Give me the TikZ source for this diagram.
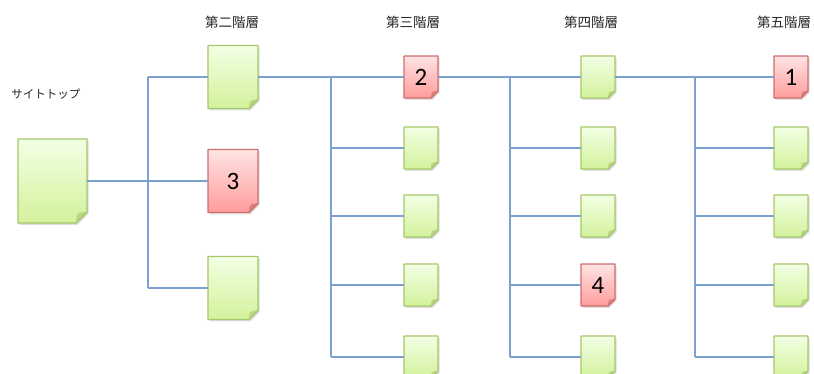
\documentclass[tikz,border=0pt]{standalone}
\usepackage{fontspec}
\newfontfamily\jp{Noto Sans CJK JP}
\newfontfamily\num{Carlito}
\usetikzlibrary{calc}
\definecolor{gtop}{HTML}{F2FFE4}
\definecolor{gbot}{HTML}{D3F29C}
\definecolor{gbrd}{HTML}{A6C86A}
\definecolor{gfold}{HTML}{B9D77E}
\definecolor{rtop}{HTML}{FFE4E4}
\definecolor{rbot}{HTML}{FF9C9C}
\definecolor{rbrd}{HTML}{CF6E6C}
\definecolor{rfold}{HTML}{D9807E}
\definecolor{conn}{HTML}{7CA1D0}
\tikzset{
  pagebox/.style={rectangle, inner sep=0pt, outer sep=0pt},
  link/.style={draw=conn, line width=1.2pt},
  lvl/.style={font=\jp\fontsize{13.5}{15}\selectfont, text=black!85},
  numtxt/.style={font=\num\fontsize{25}{28}\selectfont, text=black}
}
% #1 name, #2 position, #3 width, #4 height, #5 corner, #6 colour prefix (g/r), #7 text
\newcommand\pg[7]{%
  \node[pagebox, minimum width=#3, minimum height=#4] (#1) at (#2) {};
  \fill[black, opacity=0.13]
    ([shift={(1.5pt,-1.8pt)}]#1.north west) -- ([shift={(1.5pt,-1.8pt)}]#1.north east)
    -- ([shift={(1.5pt,#5-1.8pt)}]#1.south east) -- ([shift={(1.5pt-#5,-1.8pt)}]#1.south east)
    -- ([shift={(1.5pt,-1.8pt)}]#1.south west) -- cycle;
  \shade[top color=#6top, bottom color=#6bot, draw=#6brd, line width=1.1pt, line join=round]
    (#1.north west) -- (#1.north east) -- ([yshift=#5]#1.south east)
    -- ([xshift=-#5]#1.south east) -- (#1.south west) -- cycle;
  \fill[#6fold] ([yshift=#5]#1.south east)
    .. controls ([shift={(-0.95*#5,0.95*#5)}]#1.south east) .. ([xshift=-#5]#1.south east) -- cycle;
  \draw[#6brd, line width=1.1pt] ([yshift=#5]#1.south east) -- ([xshift=-#5]#1.south east);
  \node[numtxt] at (#1) {#7};
}
\begin{document}
\begin{tikzpicture}[x=1pt, y=-1pt]
\useasboundingbox (0,0) rectangle (814,374);
\fill[white] (0,0) rectangle (814,374);

% junction columns
\coordinate (j2) at (148,0);
\coordinate (j3) at (331,0);
\coordinate (j4) at (510,0);
\coordinate (j5) at (695,0);

% labels
\node[lvl, font=\jp\fontsize{11.5}{14}\selectfont] (lt) at (46,94) {サイトトップ};
\node[lvl] (l2) at (232,22) {第二階層};
\node[lvl] (l3) at (413,22) {第三階層};
\node[lvl] (l4) at (591,22) {第四階層};
\node[lvl] (l5) at (784,22) {第五階層};

\coordinate (s0) at (52.5,181);
\coordinate (a0) at (233,77);
\coordinate (b0) at (233,181);
\coordinate (c0) at (233,288);
\foreach \k/\yy in {1/77,2/148,3/216,4/285,5/357}{
  \coordinate (p3\k) at (421,\yy);
  \coordinate (p4\k) at (598,\yy);
  \coordinate (p5\k) at (791,\yy);
}

% page nodes
\pg{s}{s0}{69pt}{84pt}{11pt}{g}{}
\pg{a}{a0}{50pt}{63pt}{9pt}{g}{}
\pg{b}{b0}{50pt}{63pt}{9pt}{r}{3}
\pg{c}{c0}{50pt}{63pt}{9pt}{g}{}
\pg{n31}{p31}{34pt}{42pt}{7pt}{r}{2}
\pg{n32}{p32}{34pt}{42pt}{7pt}{g}{}
\pg{n33}{p33}{34pt}{42pt}{7pt}{g}{}
\pg{n34}{p34}{34pt}{42pt}{7pt}{g}{}
\pg{n35}{p35}{34pt}{42pt}{7pt}{g}{}
\pg{n41}{p41}{34pt}{42pt}{7pt}{g}{}
\pg{n42}{p42}{34pt}{42pt}{7pt}{g}{}
\pg{n43}{p43}{34pt}{42pt}{7pt}{g}{}
\pg{n44}{p44}{34pt}{42pt}{7pt}{r}{4}
\pg{n45}{p45}{34pt}{42pt}{7pt}{g}{}
\pg{n51}{p51}{34pt}{42pt}{7pt}{r}{1}
\pg{n52}{p52}{34pt}{42pt}{7pt}{g}{}
\pg{n53}{p53}{34pt}{42pt}{7pt}{g}{}
\pg{n54}{p54}{34pt}{42pt}{7pt}{g}{}
\pg{n55}{p55}{34pt}{42pt}{7pt}{g}{}

% level 1 -> level 2
\draw[link] (s.east) -- (b.west);
\draw[link] (a.west -| j2) -- (c.west -| j2);
\draw[link] (a.west) -- (a.west -| j2);
\draw[link] (c.west) -- (c.west -| j2);

% level 2 -> level 3
\draw[link] (a.east) -- (n31.west);
\draw[link] (n31.west -| j3) -- (n35.west -| j3);
\foreach \k in {2,3,4,5} \draw[link] (n3\k.west) -- (n3\k.west -| j3);

% level 3 -> level 4
\draw[link] (n31.east) -- (n41.west);
\draw[link] (n41.west -| j4) -- (n45.west -| j4);
\foreach \k in {2,3,4,5} \draw[link] (n4\k.west) -- (n4\k.west -| j4);

% level 4 -> level 5
\draw[link] (n41.east) -- (n51.west);
\draw[link] (n51.west -| j5) -- (n55.west -| j5);
\foreach \k in {2,3,4,5} \draw[link] (n5\k.west) -- (n5\k.west -| j5);
\end{tikzpicture}
\end{document}
